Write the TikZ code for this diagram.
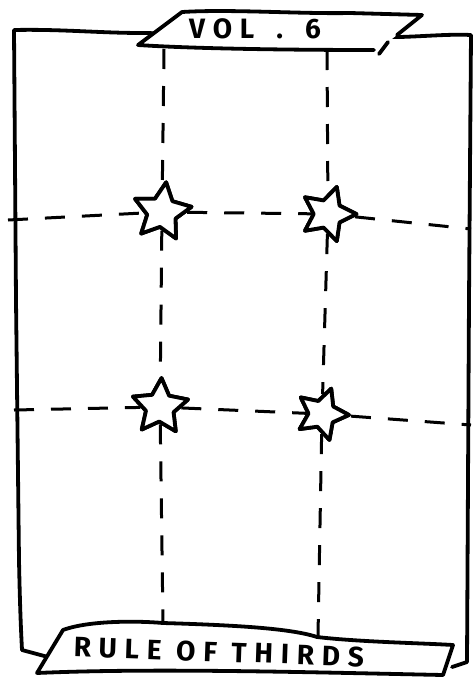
\documentclass[tikz,border=0pt]{standalone}
\usepackage{fontspec}
\newfontfamily\hand[LetterSpace=28]{Fira Sans}
\usetikzlibrary{shapes.geometric}
\begin{document}
\begin{tikzpicture}[x=1pt,y=-1pt,
  frame/.style={line width=3.8pt,line cap=round,line join=round},
  grid/.style={line width=3pt,dash pattern=on 20pt off 17pt},
  banner/.style={fill=white},
  starnode/.style={star,star points=5,star point ratio=2.0,minimum size=60pt,inner sep=0pt,
    draw,fill=white,line width=3.8pt,line join=round},
  lbl/.style={font=\hand\bfseries\fontsize{28}{30}\selectfont,inner sep=0pt}]
\useasboundingbox (0,0) rectangle (473,681);
% outer frame
\draw[frame] (48,657) -- (22,650) .. controls (21,630) and (20,610) .. (19,560) -- (16,300) -- (14,30)
  .. controls (60,29) and (100,33) .. (142,33) -- (400,37) .. controls (430,36) and (450,34) .. (471,35)
  -- (469,300) -- (467,662) -- (452,667);
% stars
\node[starnode,rotate=-8] (s1) at (162,212) {};
\node[starnode,rotate=-18,minimum size=57pt] (s2) at (328,214) {};
\node[starnode,rotate=-3,minimum size=58pt] (s3) at (160,407) {};
\node[starnode,rotate=-20,minimum size=54pt] (s4) at (322,414) {};
% grid end points
\coordinate (vt1) at (164,49);
\coordinate (vb1) at (163,623);
\coordinate (vt2) at (327,50);
\coordinate (vb2) at (318,636);
\coordinate (hl1) at (8,220);
\coordinate (hr1) at (471,229);
\coordinate (hl2) at (14,410);
\coordinate (hr2) at (471,425);
% dashed grid
\draw[grid] (vt1) -- (s1) -- (s3) -- (vb1);
\draw[grid] (vt2) -- (s2) -- (s4) -- (vb2);
\draw[grid] (hl1) -- (s1) -- (s2) -- (hr1);
\draw[grid] (hl2) -- (s3) -- (s4) -- (hr2);
% redraw stars on top
\node[starnode,rotate=-8] at (s1) {};
\node[starnode,rotate=-18,minimum size=57pt] at (s2) {};
\node[starnode,rotate=-3,minimum size=58pt] at (s3) {};
\node[starnode,rotate=-20,minimum size=54pt] at (s4) {};
% top banner
\fill[banner] (138,45) -- (182,12) .. controls (230,9) and (300,14) .. (350,13) -- (422,15)
  -- (397,35) -- (388,42) -- (379,54) -- (374,50) .. controls (300,50) and (200,49) .. (138,45) -- cycle;
\draw[frame] (374,50) .. controls (300,50) and (200,49) .. (138,45) -- (182,12)
  .. controls (230,9) and (300,14) .. (350,13) -- (422,15) -- (397,35);
\draw[frame] (388,42) -- (379,54);
% bottom banner
\fill[banner] (63,630) .. controls (90,620) and (140,621) .. (163,623) .. controls (230,625) and (290,628) .. (317,637)
  .. controls (360,642) and (420,643) .. (453,645) -- (443,675) .. controls (300,672) and (150,668) .. (37,673) -- cycle;
\draw[frame] (63,630) .. controls (90,620) and (140,621) .. (163,623) .. controls (230,625) and (290,628) .. (317,637)
  .. controls (360,642) and (420,643) .. (453,645) -- (443,675) .. controls (300,672) and (150,668) .. (37,673) -- cycle;
% labels
\node[lbl] (t1) at (255,29) {VOL\hspace{22pt}.\hspace{22pt}6};
\node[lbl,rotate=-2] (t2) at (219,652) {RULE OF THIRDS};
\end{tikzpicture}
\end{document}
